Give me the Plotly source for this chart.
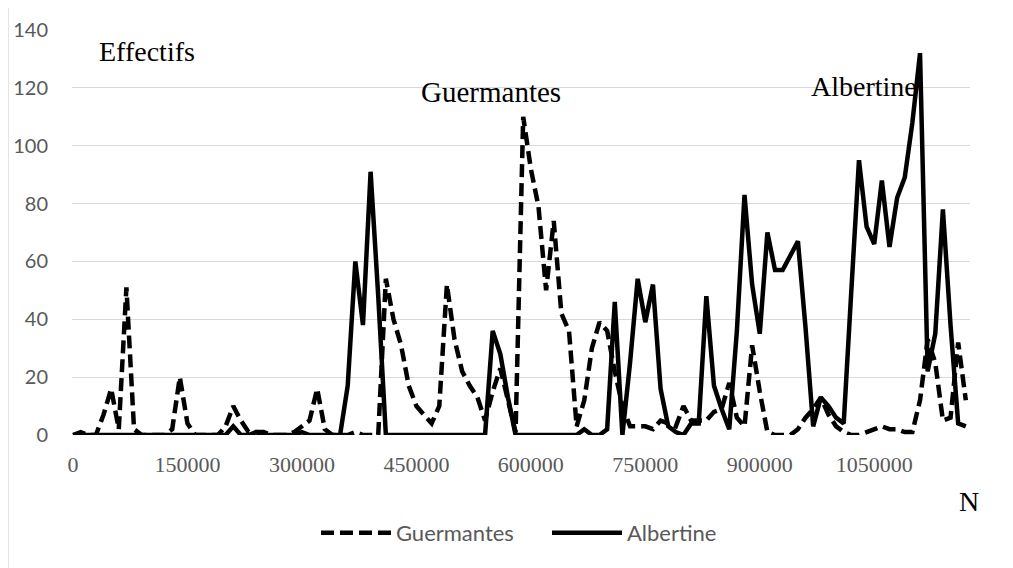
import plotly.graph_objects as go

# position in the text (number of words), one sample every 10000 words
N_WORDS = list(range(0, 1180000, 10000))

GUERMANTES = [
    0, 1, 0, 0, 7, 16, 2, 51, 2, 0,
    0, 0, 0, 2, 20, 4, 0, 0, 0, 0,
    3, 10, 5, 1, 1, 1, 0, 0, 0, 1,
    3, 5, 16, 2, 0, 0, 0, 1, 0, 0,
    0, 54, 40, 31, 17, 10, 7, 4, 10, 52,
    33, 22, 17, 13, 5, 15, 23, 12, 1, 110,
    92, 79, 50, 74, 42, 36, 3, 12, 30, 39,
    36, 22, 10, 3, 3, 3, 2, 5, 4, 3,
    10, 5, 5, 5, 8, 9, 18, 6, 3, 31,
    15, 1, 0, 0, 0, 2, 6, 9, 13, 7,
    3, 1, 0, 0, 1, 2, 3, 2, 2, 1,
    1, 12, 33, 25, 5, 6, 32, 12,
]

ALBERTINE = [
    0, 0, 0, 0, 0, 0, 0, 0, 0, 0,
    0, 0, 0, 0, 0, 0, 0, 0, 0, 0,
    0, 3, 0, 0, 1, 0, 0, 0, 0, 0,
    1, 0, 0, 0, 0, 0, 17, 60, 38, 91,
    48, 0, 0, 0, 0, 0, 0, 0, 0, 0,
    0, 0, 0, 0, 0, 36, 28, 13, 0, 0,
    0, 0, 0, 0, 0, 0, 0, 2, 0, 0,
    2, 46, 0, 25, 54, 39, 52, 16, 3, 1,
    0, 4, 4, 48, 17, 9, 2, 36, 83, 52,
    35, 70, 57, 57, 62, 67, 37, 3, 13, 10,
    6, 4, 50, 95, 72, 66, 88, 65, 82, 89,
    108, 132, 22, 35, 78, 38, 4, 3,
]

X_TICKS = [0, 150000, 300000, 450000, 600000, 750000, 900000, 1050000]
Y_TICKS = [0, 20, 40, 60, 80, 100, 120, 140]

SERIF = "Liberation Serif, Times New Roman, serif"
SANS = "Lato, Liberation Sans, sans-serif"
GREY_TXT = "#595959"
GRID = "#d9d9d9"

fig = go.Figure()

fig.add_trace(go.Scatter(
    x=N_WORDS, y=GUERMANTES, mode="lines", name="Guermantes",
    line=dict(color="black", width=4.5, dash="13px,6px"),
))
fig.add_trace(go.Scatter(
    x=N_WORDS, y=ALBERTINE, mode="lines", name="Albertine",
    line=dict(color="black", width=4.5),
))

# labels written on the chart
big = dict(family=SERIF, size=28, color="black")
fig.add_annotation(x=97000, y=132.5, text="Effectifs", showarrow=False, font=big)
fig.add_annotation(x=548000, y=118.5, text="Guermantes", showarrow=False,
                   font=dict(family=SERIF, size=29, color="black"))
fig.add_annotation(x=1036000, y=120.5, text="Albertine", showarrow=False, font=big)
fig.add_annotation(xref="paper", yref="paper", x=0.9989, y=-0.165, text="N",
                   xanchor="center", yanchor="middle", showarrow=False, font=big)

# light frame around the chart area
fig.add_shape(type="rect", xref="paper", yref="paper",
              x0=-0.0713, x1=1.2, y0=-0.5, y1=1.0617,
              line=dict(color=GRID, width=1.5), layer="below")

fig.update_xaxes(
    range=[-1300, 1175500],
    tickmode="array", tickvals=X_TICKS, ticktext=[str(t) for t in X_TICKS],
    tickfont=dict(family=SERIF, size=22, color=GREY_TXT),
    showgrid=False, zeroline=False, showline=False, ticks="",
    ticklabelstandoff=14, automargin=False,
)
fig.update_yaxes(
    range=[0, 140],
    tickmode="array", tickvals=Y_TICKS,
    tickfont=dict(family=SANS, size=20, color=GREY_TXT),
    showgrid=True, gridcolor=GRID, gridwidth=1.3,
    zeroline=False, showline=False, ticks="",
    ticklabelstandoff=23, automargin=False,
)

# the page body adds an 8px offset, so margins are reduced by 8
fig.update_layout(
    width=1013, height=568,
    margin=dict(l=64, r=51, t=22, b=141),
    paper_bgcolor="white", plot_bgcolor="white",
    showlegend=True,
    legend=dict(
        orientation="h", x=0.2717, xanchor="left", y=-0.242, yanchor="middle",
        font=dict(family=SANS, size=22, color=GREY_TXT),
        itemwidth=70, entrywidth=146, traceorder="normal",
    ),
)

fig.write_html("out.html")
